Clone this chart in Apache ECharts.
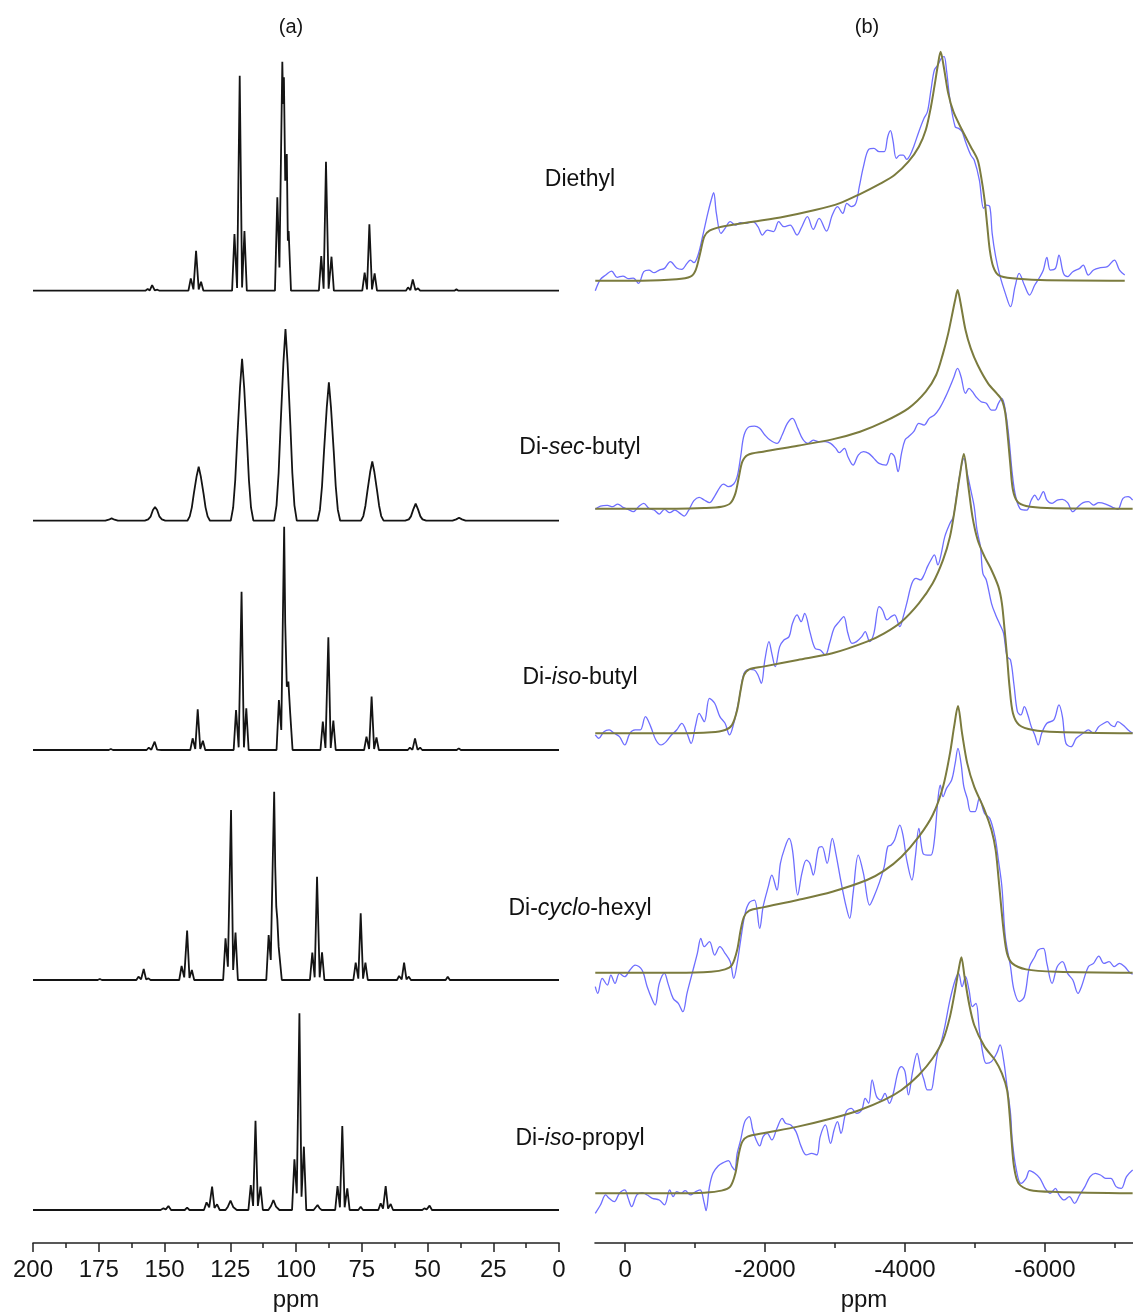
<!DOCTYPE html>
<html><head><meta charset="utf-8">
<script src="https://cdn.jsdelivr.net/npm/echarts@6/dist/echarts.min.js"></script>
<style>html,body{margin:0;padding:0;background:#fff}#c{width:1133px;height:1315px}</style>
</head><body><div id="c"></div>
<script>
// ---------- labels ----------
const panelTitles = ['(a)', '(b)'];
const sampleNames = [['Diethyl','',''], ['Di-','sec','-butyl'], ['Di-','iso','-butyl'], ['Di-','cyclo','-hexyl'], ['Di-','iso','-propyl']];
const axisName = 'ppm';
const leftTicks = [200,175,150,125,100,75,50,25,0];
const leftMinorTicks = [187.5,162.5,137.5,112.5,87.5,62.5,37.5,12.5];
const rightTicks = [0,-2000,-4000,-6000];
const rightMinorTicks = [-1000,-3000,-5000,-7000];

// ---------- (a) spectra: [ppm, intensity] ----------
const diethylA = [[200,0],[172,0],[171.3,3],[170.6,0],[157.3,0],[156.4,5],[155.6,1],[154.7,17],[153.7,1],[152.7,3],[151.9,0],[140.9,0],[140.0,37],[139.0,4],[138.0,120],[137.0,4],[136.1,27],[135.2,0],[124.3,0],[123.4,170],[122.4,8],[121.4,645],[120.5,10],[119.6,179],[118.7,0],[108.0,0],[107.1,280],[106.3,70],[105.2,687],[104.9,560],[104.6,640],[104.1,330],[103.5,410],[103.1,150],[102.8,179],[101.9,0],[91.3,0],[90.4,104],[89.5,6],[88.6,387],[87.6,6],[86.5,102],[85.6,0],[74.8,0],[73.9,54],[73.0,4],[72.1,199],[71.1,4],[70.1,52],[69.2,0],[58.2,0],[57.4,10],[56.5,2],[55.6,34],[54.6,2],[53.6,7],[52.8,0],[39.8,0],[39.0,4],[38.2,0],[0,0]];
const secButylA = [[200,0],[172.5,0],[171.2,3],[170.1,7],[169.0,3],[167.7,0],[157.5,0],[156.2,4],[155.3,12],[154.4,32],[153.6,41],[152.8,32],[151.9,12],[151.0,4],[149.7,0],[141.3,0],[140.4,13],[139.6,40],[138.85,81],[137.8,133],[137.0,162],[136.2,133],[135.15,81],[134.4,40],[133.6,13],[132.7,0],[124.8,0],[123.9,39],[123.1,122],[122.35,243],[121.3,399],[120.5,486],[119.7,399],[118.65,243],[117.9,122],[117.1,39],[116.2,0],[108.3,0],[107.4,46],[106.6,144],[105.85,288],[104.8,472],[104.0,575],[103.2,472],[102.15,288],[101.4,144],[100.6,46],[99.7,0],[91.8,0],[90.9,33],[90.1,104],[89.35,208],[88.3,340],[87.5,415],[86.7,340],[85.65,208],[84.9,104],[84.1,33],[83.2,0],[75.3,0],[74.4,14],[73.6,45],[72.85,89],[71.8,146],[71.0,178],[70.2,146],[69.15,89],[68.4,45],[67.6,14],[66.7,0],[58.5,0],[57.1,4],[56.3,13],[55.4,34],[54.5,51],[53.6,34],[52.7,13],[51.9,4],[50.5,0],[40.5,0],[39.1,4],[38.0,9],[36.9,4],[35.5,0],[0,0]];
const isoButylA = [[200,0],[171.2,0],[170.4,3],[169.6,0],[156.8,0],[155.97,7],[155.0,1],[153.74,25],[152.8,1],[152.04,5],[151.2,0],[140.2,0],[139.3,35],[138.3,3],[137.37,122],[136.4,3],[135.4,28],[134.5,0],[123.7,0],[122.8,120],[121.8,8],[120.7,475],[119.8,8],[118.9,125],[118.0,0],[107.4,0],[106.5,150],[105.6,60],[104.5,670],[104.1,380],[103.5,190],[102.9,205],[102.2,110],[101.3,0],[90.7,0],[89.8,85],[88.8,6],[87.7,338],[86.8,6],[85.8,88],[84.9,0],[74.1,0],[73.2,40],[72.2,3],[71.25,160],[70.3,3],[69.4,38],[68.5,0],[57.5,0],[56.7,7],[55.7,1],[54.75,35],[53.8,1],[52.8,7],[52.0,0],[38.9,0],[38.1,5],[37.3,0],[0,0]];
const cycloHexylA = [[200,0],[175.4,0],[174.6,3],[173.8,0],[160.7,0],[159.9,10],[158.9,2],[157.9,33],[157.0,2],[156.1,5],[155.3,0],[144.4,0],[143.5,42],[142.5,8],[141.4,148],[140.5,6],[139.6,30],[138.7,0],[127.7,0],[126.8,125],[125.9,40],[124.7,510],[123.9,30],[123.0,142],[122.1,0],[111.3,0],[110.4,135],[109.6,60],[108.3,565],[107.9,340],[107.5,220],[107.1,182],[106.6,100],[106.2,100],[105.4,0],[94.7,0],[93.8,82],[92.9,8],[92.0,310],[91.0,8],[90.1,83],[89.2,0],[78.2,0],[77.3,52],[76.3,4],[75.4,200],[74.5,4],[73.6,52],[72.7,0],[61.6,0],[60.8,12],[59.8,2],[58.9,52],[58.0,2],[57.1,10],[56.3,0],[43.1,0],[42.3,10],[41.5,0],[0,0]];
const isoPropylA = [[200,0],[151.5,0],[150.4,5],[149.5,2],[148.5,12],[147.5,0],[142.3,0],[141.4,7],[140.5,0],[135,0],[134.0,23],[133.0,8],[131.9,70],[131.0,6],[130.0,17],[129.0,0],[126.8,0],[125.9,10],[124.9,28],[123.8,8],[122.5,0],[118.1,0],[117.2,75],[116.3,12],[115.4,268],[114.5,12],[113.5,70],[112.6,0],[110.5,0],[109.5,12],[108.6,30],[107.6,10],[106.3,0],[101.5,0],[100.6,152],[99.7,50],[98.7,590],[97.9,40],[97.0,190],[96.1,0],[93.3,0],[92.6,6],[91.8,15],[91.0,5],[90.2,0],[85.1,0],[84.2,72],[83.3,8],[82.4,252],[81.5,8],[80.5,65],[79.6,0],[76.3,0],[75.4,10],[74.5,0],[68.7,0],[67.8,20],[66.9,4],[65.9,72],[65.0,4],[64.0,18],[63.1,0],[52.0,0],[51.2,5],[50.3,2],[49.2,13],[48.3,0],[0,0]];

// ---------- (b) spectra: experimental (blue) and fit (olive), [ppm, intensity] ----------
const diethylExp = [[426,-30],[352,4],[277,17],[193,29],[114,10],[30,14],[-44,6],[-118,8],[-192,-8],[-267,27],[-341,32],[-415,24],[-489,32],[-563,37],[-647,57],[-737,38],[-811,34],[-885,52],[-934,62],[-984,54],[-1043,77],[-1107,132],[-1182,202],[-1231,242],[-1266,264],[-1305,202],[-1370,142],[-1429,157],[-1503,177],[-1577,167],[-1652,174],[-1726,172],[-1825,177],[-1899,162],[-1963,137],[-2032,152],[-2121,147],[-2196,177],[-2270,162],[-2359,167],[-2458,137],[-2527,162],[-2606,192],[-2690,154],[-2774,187],[-2878,149],[-2962,197],[-3036,222],[-3111,202],[-3170,232],[-3234,222],[-3298,232],[-3348,282],[-3407,342],[-3482,394],[-3556,397],[-3630,387],[-3704,387],[-3754,432],[-3793,450],[-3828,422],[-3877,367],[-3927,377],[-3976,377],[-4026,364],[-4075,377],[-4125,402],[-4199,447],[-4273,487],[-4322,507],[-4372,572],[-4421,632],[-4471,647],[-4520,667],[-4560,672],[-4594,632],[-4644,542],[-4718,462],[-4767,457],[-4817,447],[-4866,417],[-4941,377],[-4990,362],[-5064,302],[-5124,217],[-5163,227],[-5213,222],[-5247,142],[-5297,72],[-5361,12],[-5435,-38],[-5509,-78],[-5574,-18],[-5633,22],[-5707,-13],[-5781,-43],[-5856,-13],[-5930,12],[-5979,32],[-6029,70],[-6078,32],[-6152,37],[-6202,77],[-6266,22],[-6325,12],[-6400,27],[-6498,37],[-6548,47],[-6622,17],[-6696,32],[-6795,39],[-6894,42],[-6993,62],[-7067,32],[-7142,17]];
const diethylFit = [[426,0],[-242,0],[-737,4],[-934,12],[-1009,32],[-1073,82],[-1132,132],[-1206,150],[-1379,162],[-1825,177],[-2270,192],[-2715,212],[-3061,232],[-3358,260],[-3655,292],[-3852,317],[-4050,357],[-4199,402],[-4298,452],[-4372,522],[-4421,582],[-4471,647],[-4510,687],[-4555,642],[-4619,562],[-4693,507],[-4817,452],[-4941,402],[-5040,362],[-5089,312],[-5139,242],[-5178,162],[-5213,92],[-5262,42],[-5336,17],[-5534,7],[-5930,2],[-7142,0]];

const secButylExp = [[426,-2],[352,8],[253,10],[179,6],[104,14],[30,4],[-44,-2],[-118,-9],[-192,6],[-267,16],[-341,1],[-415,-4],[-489,-16],[-563,-2],[-638,-12],[-712,-4],[-786,-14],[-845,-22],[-910,-4],[-984,24],[-1058,34],[-1132,26],[-1206,18],[-1281,38],[-1355,64],[-1404,74],[-1478,66],[-1553,74],[-1602,96],[-1652,156],[-1701,221],[-1775,246],[-1849,248],[-1924,241],[-1998,221],[-2072,206],[-2171,196],[-2245,221],[-2319,256],[-2393,271],[-2468,241],[-2542,208],[-2616,196],[-2690,206],[-2764,201],[-2863,201],[-2937,196],[-3012,181],[-3061,168],[-3135,181],[-3185,156],[-3259,131],[-3333,161],[-3407,171],[-3482,166],[-3556,151],[-3630,136],[-3729,131],[-3803,166],[-3852,156],[-3902,111],[-3951,166],[-4001,206],[-4050,216],[-4125,231],[-4199,256],[-4273,251],[-4347,271],[-4421,281],[-4495,301],[-4570,331],[-4644,366],[-4693,391],[-4753,421],[-4802,396],[-4866,346],[-4916,361],[-4965,351],[-5015,336],[-5089,321],[-5163,316],[-5237,296],[-5287,296],[-5336,316],[-5386,331],[-5435,296],[-5485,216],[-5534,106],[-5584,36],[-5658,-2],[-5742,-4],[-5806,26],[-5856,41],[-5905,26],[-5979,51],[-6029,26],[-6103,16],[-6177,26],[-6251,28],[-6325,18],[-6400,-9],[-6474,6],[-6548,18],[-6622,21],[-6696,11],[-6771,18],[-6869,14],[-6968,4],[-7042,-2],[-7117,31],[-7191,36],[-7255,26]];
const secButylFit = [[426,0],[-242,0],[-737,0],[-1132,2],[-1379,6],[-1503,16],[-1577,46],[-1627,96],[-1676,141],[-1750,161],[-1973,171],[-2468,189],[-2962,208],[-3358,231],[-3704,261],[-4050,301],[-4298,351],[-4446,401],[-4545,466],[-4619,526],[-4683,591],[-4718,626],[-4753,656],[-4792,621],[-4866,536],[-4941,481],[-5040,431],[-5188,376],[-5312,346],[-5386,326],[-5435,286],[-5475,206],[-5509,126],[-5544,56],[-5608,21],[-5732,8],[-6029,2],[-7255,0]];

const isoButylExp = [[426,-5],[376,-15],[302,5],[228,10],[154,0],[80,-10],[5,-35],[-69,0],[-143,10],[-217,10],[-291,50],[-366,20],[-440,-20],[-514,-35],[-588,-25],[-662,-5],[-737,10],[-811,30],[-885,0],[-944,-30],[-1009,25],[-1058,60],[-1132,35],[-1206,105],[-1281,90],[-1355,50],[-1429,30],[-1493,-5],[-1553,30],[-1627,100],[-1701,180],[-1775,192],[-1849,190],[-1899,175],[-1948,150],[-1998,220],[-2057,275],[-2097,240],[-2146,200],[-2210,260],[-2270,280],[-2344,290],[-2393,330],[-2458,355],[-2517,335],[-2567,360],[-2641,305],[-2715,255],[-2789,250],[-2863,235],[-2923,270],[-2987,315],[-3061,335],[-3125,350],[-3185,300],[-3244,270],[-3308,275],[-3383,290],[-3432,305],[-3496,275],[-3556,300],[-3630,380],[-3679,370],[-3744,340],[-3803,350],[-3852,355],[-3927,320],[-3976,350],[-4026,390],[-4100,450],[-4159,465],[-4223,460],[-4273,475],[-4322,500],[-4372,520],[-4421,535],[-4471,505],[-4520,540],[-4570,590],[-4644,630],[-4693,650],[-4743,720],[-4792,785],[-4842,825],[-4891,780],[-4941,730],[-4990,680],[-5030,610],[-5079,560],[-5114,480],[-5163,460],[-5237,390],[-5297,355],[-5361,325],[-5410,300],[-5460,230],[-5509,220],[-5559,145],[-5608,65],[-5658,55],[-5707,80],[-5757,55],[-5806,20],[-5856,-5],[-5905,-35],[-5955,0],[-6029,30],[-6128,40],[-6202,85],[-6251,50],[-6301,-30],[-6375,-40],[-6449,-15],[-6548,0],[-6622,10],[-6696,0],[-6771,20],[-6845,30],[-6894,35],[-6943,25],[-6993,20],[-7042,35],[-7117,25],[-7191,10],[-7255,0]];
const isoButylFit = [[426,0],[-737,0],[-1231,3],[-1429,10],[-1528,25],[-1602,70],[-1652,130],[-1701,175],[-1775,192],[-1973,200],[-2468,220],[-2962,240],[-3457,275],[-3704,300],[-3951,335],[-4199,390],[-4397,450],[-4545,520],[-4644,590],[-4718,680],[-4782,770],[-4842,838],[-4901,750],[-4965,650],[-5040,580],[-5138,530],[-5237,490],[-5336,440],[-5386,390],[-5425,310],[-5460,230],[-5495,140],[-5544,60],[-5633,25],[-5831,10],[-6177,4],[-7255,0]];

const cycloHexylExp = [[426,-42],[391,-62],[327,-17],[253,-37],[203,-7],[144,-32],[80,-2],[5,-12],[-69,8],[-143,23],[-242,8],[-316,-42],[-390,-82],[-430,-97],[-489,-32],[-563,-2],[-613,-32],[-687,-77],[-761,-92],[-826,-117],[-885,-62],[-959,-2],[-1033,58],[-1083,103],[-1132,78],[-1206,93],[-1281,53],[-1355,78],[-1429,58],[-1503,33],[-1553,-17],[-1602,28],[-1652,98],[-1716,178],[-1775,210],[-1849,218],[-1924,133],[-1973,198],[-2047,258],[-2097,293],[-2171,248],[-2220,328],[-2280,373],[-2344,403],[-2393,368],[-2468,233],[-2527,298],[-2591,338],[-2641,328],[-2690,293],[-2764,373],[-2814,378],[-2888,328],[-2962,403],[-3012,358],[-3086,273],[-3160,198],[-3210,163],[-3259,238],[-3333,353],[-3407,298],[-3496,203],[-3556,228],[-3630,268],[-3704,318],[-3754,378],[-3803,383],[-3852,398],[-3927,443],[-3976,408],[-4026,338],[-4100,278],[-4149,348],[-4199,433],[-4258,358],[-4322,353],[-4372,353],[-4421,398],[-4471,518],[-4505,563],[-4545,528],[-4594,553],[-4668,578],[-4718,628],[-4758,673],[-4802,628],[-4842,558],[-4891,523],[-4941,483],[-5000,483],[-5064,523],[-5138,478],[-5213,463],[-5287,408],[-5336,338],[-5386,258],[-5435,108],[-5509,18],[-5559,-52],[-5633,-87],[-5707,-72],[-5781,18],[-5856,48],[-5905,68],[-5979,73],[-6029,28],[-6103,-32],[-6177,18],[-6251,33],[-6325,-2],[-6400,-22],[-6474,-62],[-6523,-42],[-6622,18],[-6696,28],[-6771,50],[-6845,28],[-6919,33],[-6993,18],[-7067,28],[-7142,18],[-7216,0],[-7255,-4]];
const cycloHexylFit = [[426,0],[-737,0],[-1231,3],[-1429,10],[-1528,23],[-1602,68],[-1652,128],[-1701,168],[-1775,186],[-1973,196],[-2468,218],[-2962,243],[-3457,278],[-3704,306],[-3951,348],[-4199,408],[-4397,473],[-4545,558],[-4644,658],[-4703,738],[-4758,800],[-4817,718],[-4891,628],[-4990,558],[-5138,488],[-5237,428],[-5297,368],[-5336,288],[-5376,198],[-5415,118],[-5460,58],[-5534,28],[-5732,10],[-6177,3],[-7255,0]];

const isoPropylExp = [[426,-60],[352,-35],[277,-5],[228,-15],[154,-25],[80,0],[5,10],[-44,-15],[-94,-40],[-168,-5],[-242,2],[-316,-5],[-390,-15],[-489,-20],[-563,-35],[-638,10],[-687,-10],[-737,5],[-796,0],[-860,8],[-934,-5],[-1009,5],[-1073,10],[-1132,-30],[-1157,-52],[-1206,20],[-1256,60],[-1330,82],[-1404,92],[-1478,98],[-1528,80],[-1567,70],[-1602,120],[-1652,160],[-1711,215],[-1775,230],[-1825,190],[-1874,160],[-1924,142],[-1973,170],[-2032,180],[-2097,160],[-2171,195],[-2245,225],[-2294,210],[-2369,205],[-2443,185],[-2517,140],[-2591,115],[-2665,120],[-2740,115],[-2789,170],[-2863,205],[-2937,150],[-2987,190],[-3036,215],[-3086,180],[-3160,245],[-3234,255],[-3308,240],[-3383,250],[-3432,285],[-3482,270],[-3531,340],[-3595,290],[-3655,280],[-3714,300],[-3778,270],[-3828,295],[-3902,365],[-3951,380],[-4001,365],[-4050,295],[-4110,365],[-4174,420],[-4223,375],[-4273,340],[-4322,310],[-4372,310],[-4421,360],[-4471,425],[-4520,455],[-4570,500],[-4644,580],[-4718,640],[-4767,660],[-4817,620],[-4866,650],[-4916,610],[-4965,560],[-5015,570],[-5064,490],[-5114,420],[-5163,390],[-5237,395],[-5312,420],[-5361,445],[-5410,400],[-5460,320],[-5509,240],[-5534,160],[-5584,80],[-5658,30],[-5732,45],[-5781,68],[-5856,60],[-5930,45],[-6004,15],[-6078,0],[-6152,15],[-6202,-5],[-6276,-20],[-6350,-10],[-6424,-30],[-6498,-5],[-6573,20],[-6647,50],[-6721,60],[-6795,55],[-6869,45],[-6943,45],[-7018,20],[-7092,15],[-7167,50],[-7255,70]];
const isoPropylFit = [[426,0],[-737,0],[-1132,2],[-1379,8],[-1503,20],[-1577,60],[-1627,120],[-1676,155],[-1750,170],[-1973,180],[-2468,200],[-2962,225],[-3358,250],[-3704,280],[-3951,310],[-4199,355],[-4397,405],[-4545,460],[-4644,530],[-4718,610],[-4767,670],[-4807,708],[-4852,650],[-4916,570],[-4990,505],[-5138,440],[-5287,400],[-5386,360],[-5460,310],[-5495,240],[-5524,160],[-5559,80],[-5623,30],[-5781,10],[-6177,4],[-7255,0]];

const leftSpectra = [diethylA, secButylA, isoButylA, cycloHexylA, isoPropylA];
const rightExp = [diethylExp, secButylExp, isoButylExp, cycloHexylExp, isoPropylExp];
const rightFit = [diethylFit, secButylFit, isoButylFit, cycloHexylFit, isoPropylFit];

// ---------- layout ----------
const FF = "'Liberation Sans', Arial, Helvetica, sans-serif";
const W = 1133;
const LEFT = {x0: 33, w: 526, min: 0, max: 200, bases: [290.7, 520.7, 750, 980, 1210]};
const RIGHT = {x0: 595, w: 538, min: -7260, max: 430, bases: [280.7, 508.7, 733.3, 972.7, 1193.3]};
const UNIT_PX = 1/3;         // px per intensity unit
const AXIS_Y = 1243;

const grids = [], xAxis = [], yAxis = [], series = [];
function addGrid(g, xa, ya) {
  grids.push(g);
  const gi = grids.length - 1;
  xAxis.push(Object.assign({type: 'value', gridIndex: gi}, xa));
  yAxis.push(Object.assign({type: 'value', gridIndex: gi}, ya));
  return {xi: xAxis.length - 1, yi: yAxis.length - 1};
}
function hiddenX(P) { return {min: P.min, max: P.max, inverse: true, show: false, splitLine: {show: false}}; }

leftSpectra.forEach((d, i) => {
  const base = LEFT.bases[i], up = 250, down = 12;
  const ix = addGrid({left: LEFT.x0, width: LEFT.w, top: base - up, height: up + down},
    hiddenX(LEFT), {min: -down / UNIT_PX, max: up / UNIT_PX, show: false, splitLine: {show: false}});
  series.push({type: 'line', xAxisIndex: ix.xi, yAxisIndex: ix.yi, data: d, symbol: 'none', silent: true, clip: false,
    lineStyle: {color: '#141414', width: 1.8}});
});
rightExp.forEach((d, i) => {
  const base = RIGHT.bases[i], up = 260, down = 60;
  const ix = addGrid({left: RIGHT.x0, width: RIGHT.w, top: base - up, height: up + down},
    hiddenX(RIGHT), {min: -down / UNIT_PX, max: up / UNIT_PX, show: false, splitLine: {show: false}});
  series.push({type: 'line', xAxisIndex: ix.xi, yAxisIndex: ix.yi, data: d, symbol: 'none', silent: true, clip: false,
    smooth: 0.35, lineStyle: {color: '#6e6eff', width: 1.3}});
  series.push({type: 'line', xAxisIndex: ix.xi, yAxisIndex: ix.yi, data: rightFit[i], symbol: 'none', silent: true, clip: false,
    smooth: 0.3, lineStyle: {color: '#7b7b3e', width: 2}});
});

function axisPair(P, ticks, minor) {
  const gi = grids.length;
  grids.push({left: P.x0, width: P.w, top: AXIS_Y - 40, height: 40});
  xAxis.push({type: 'value', gridIndex: gi, min: P.min, max: P.max, inverse: true, position: 'bottom',
    axisLine: {show: true, lineStyle: {color: '#222', width: 1.6}},
    axisTick: {show: true, length: 9, customValues: ticks, lineStyle: {color: '#222', width: 1.5}},
    axisLabel: {show: true, customValues: ticks, fontSize: 24, fontFamily: FF, color: '#151515', margin: 15,
      showMinLabel: true, showMaxLabel: true, formatter: v => String(v)},
    splitLine: {show: false},
    name: axisName, nameLocation: 'middle', nameGap: 45, nameTextStyle: {fontSize: 24, fontFamily: FF, color: '#151515'}});
  xAxis.push({type: 'value', gridIndex: gi, min: P.min, max: P.max, inverse: true, position: 'bottom',
    axisLine: {show: false}, axisLabel: {show: false}, splitLine: {show: false},
    axisTick: {show: true, length: 5, customValues: minor, lineStyle: {color: '#222', width: 1.5}}});
  yAxis.push({type: 'value', gridIndex: gi, min: 0, max: 1, show: false, splitLine: {show: false}});
}
axisPair(LEFT, leftTicks, leftMinorTicks);
axisPair(RIGHT, rightTicks, rightMinorTicks);

const graphics = [
  {type: 'text', x: 291, y: 27, style: {text: panelTitles[0], fontSize: 20, fontFamily: FF, fill: '#151515', align: 'center', verticalAlign: 'middle'}},
  {type: 'text', x: 867, y: 27, style: {text: panelTitles[1], fontSize: 20, fontFamily: FF, fill: '#151515', align: 'center', verticalAlign: 'middle'}}
];
const labelY = [180, 448, 678, 909, 1139];
const rich = {
  n: {fontSize: 23, fontFamily: FF, fill: '#111'},
  i: {fontSize: 23, fontFamily: FF, fill: '#111', fontStyle: 'italic'}
};
sampleNames.forEach((p, i) => {
  let t = '{n|' + p[0] + '}';
  if (p[1]) t += '{i|' + p[1] + '}';
  if (p[2]) t += '{n|' + p[2] + '}';
  graphics.push({type: 'text', x: 580, y: labelY[i], style: {text: t, rich: rich, fontSize: 23, fontFamily: FF, fill: '#111', align: 'center', verticalAlign: 'middle'}});
});

const chart = echarts.init(document.getElementById('c'), null, {renderer: 'canvas', width: W, height: 1315});
chart.setOption({
  animation: false,
  backgroundColor: '#fff',
  grid: grids, xAxis: xAxis, yAxis: yAxis, series: series,
  graphic: graphics
});
</script></body></html>
